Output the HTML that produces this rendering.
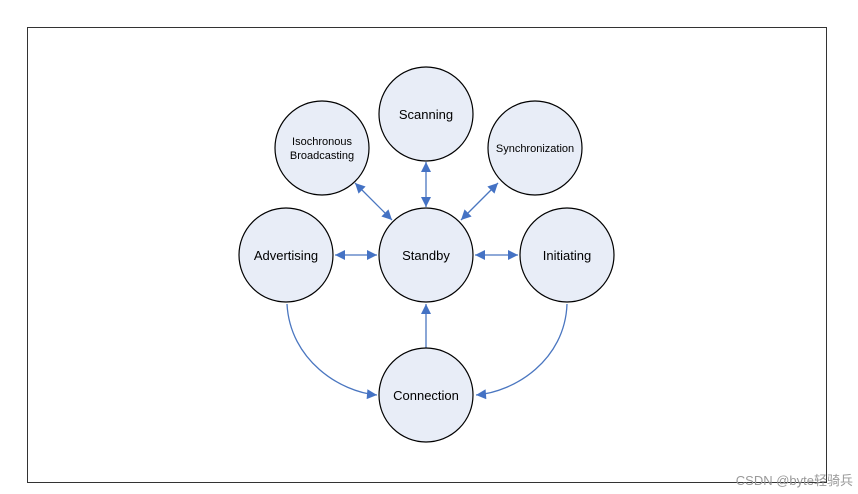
<!DOCTYPE html><html><head><style>body{margin:0;background:#fff}svg{display:block}</style></head><body>
<svg width="858" height="494" xmlns="http://www.w3.org/2000/svg" font-family="Liberation Sans, sans-serif">
<defs><marker id="a" viewBox="0 0 10 10" refX="10" refY="5" markerWidth="12" markerHeight="10" orient="auto-start-reverse" markerUnits="userSpaceOnUse"><path d="M0,0L10,5L0,10z" fill="#4472c4"/></marker></defs>
<rect x="27.5" y="27.5" width="799" height="455" fill="#fff" stroke="#333" stroke-width="1"/>
<g stroke="#4a76c0" stroke-width="1.3" fill="none">
<line x1="426" y1="162" x2="426" y2="207" marker-start="url(#a)" marker-end="url(#a)"/>
<line x1="355" y1="183" x2="392" y2="220" marker-start="url(#a)" marker-end="url(#a)"/>
<line x1="498" y1="183" x2="461" y2="220" marker-start="url(#a)" marker-end="url(#a)"/>
<line x1="335" y1="255" x2="377" y2="255" marker-start="url(#a)" marker-end="url(#a)"/>
<line x1="475" y1="255" x2="518" y2="255" marker-start="url(#a)" marker-end="url(#a)"/>
<line x1="426" y1="348" x2="426" y2="304" marker-end="url(#a)"/>
<path d="M287,304 C290,360 340,392 377,395" marker-end="url(#a)"/>
<path d="M567,304 C565,360 515,392 476,395" marker-end="url(#a)"/>
</g>
<g fill="#e8edf7" stroke="#000" stroke-width="1.2">
<circle cx="426" cy="114" r="47"/><circle cx="322" cy="148" r="47"/><circle cx="535" cy="148" r="47"/>
<circle cx="286" cy="255" r="47"/><circle cx="426" cy="255" r="47"/><circle cx="567" cy="255" r="47"/>
<circle cx="426" cy="395" r="47"/>
</g>
<g font-size="13" text-anchor="middle" fill="#000">
<text x="426" y="119">Scanning</text>
<text x="322" y="145" font-size="11">Isochronous</text><text x="322" y="159" font-size="11">Broadcasting</text>
<text x="535" y="152" font-size="11">Synchronization</text>
<text x="286" y="260">Advertising</text><text x="426" y="260">Standby</text><text x="567" y="260">Initiating</text>
<text x="426" y="400">Connection</text>
</g>
<text x="853" y="485" font-size="13" text-anchor="end" fill="#999" font-family="Liberation Sans, Noto Sans CJK SC, sans-serif">CSDN @byte轻骑兵</text>
</svg></body></html>
